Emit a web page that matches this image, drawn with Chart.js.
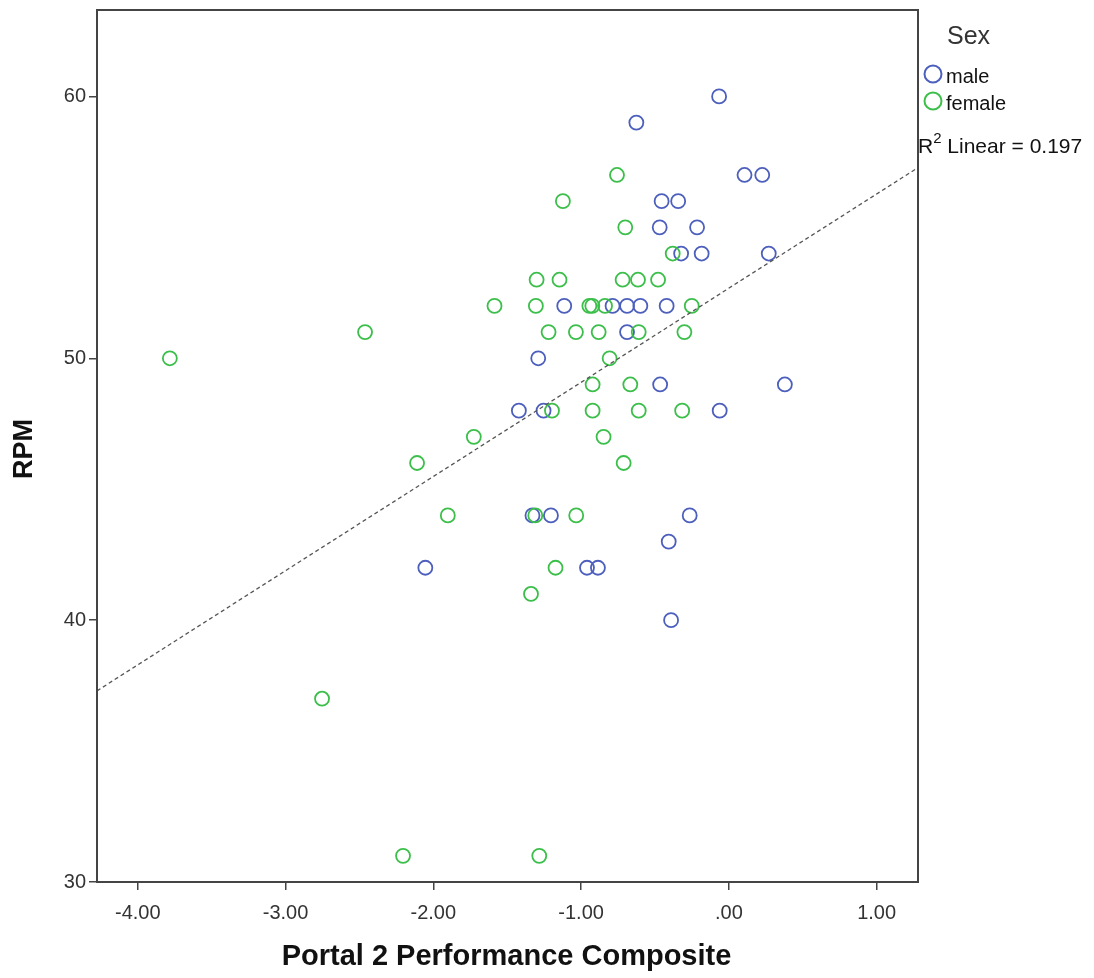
<!DOCTYPE html>
<html>
<head>
<meta charset="utf-8">
<script src="https://cdn.jsdelivr.net/npm/chart.js@4/dist/chart.umd.min.js"></script>
<style>
  html, body { margin: 0; padding: 0; background: #fff; }
  #wrap { width: 1094px; height: 978px; }
</style>
</head>
<body>
<div id="wrap"><canvas id="rpmChart" width="1094" height="978"></canvas></div>
<script>
// -------- Data --------
const maleX = [-0.066, -0.626, 0.106, 0.226, -0.455, -0.343, -0.468, -0.215, -0.323, -0.184, 0.270,
               -1.114, -0.787, -0.689, -0.599, -0.421, -0.689, -1.290, -0.465, 0.379,
               -1.421, -1.254, -0.062, -1.329, -1.204, -0.265, -0.407, -2.054, -0.960, -0.886, -0.391];
const maleY = [60, 59, 57, 57, 56, 56, 55, 55, 54, 54, 54,
               52, 52, 52, 52, 52, 51, 50, 49, 49,
               48, 48, 48, 44, 44, 44, 43, 42, 42, 42, 40];

const femaleX = [-0.757, -1.123, -0.701, -0.380,
                 -1.301, -1.146, -0.719, -0.615, -0.479,
                 -1.586, -1.306, -0.944, -0.924, -0.838, -0.251,
                 -2.462, -1.220, -1.035, -0.881, -0.610, -0.301,
                 -3.783, -0.807, -0.922, -0.667,
                 -1.197, -0.922, -0.610, -0.316,
                 -1.726, -0.848, -2.110, -0.712,
                 -1.902, -1.310, -1.033, -1.173, -1.339, -2.753, -2.205, -1.283];
const femaleY = [57, 56, 55, 54,
                 53, 53, 53, 53, 53,
                 52, 52, 52, 52, 52, 52,
                 51, 51, 51, 51, 51, 51,
                 50, 50, 49, 49,
                 48, 48, 48, 48,
                 47, 47, 46, 46,
                 44, 44, 44, 42, 41, 37, 31, 31];

// fit line ends (where it meets the frame)
const fitX = [-4.276, 1.280];
const fitY = [37.30, 57.28];

const xTickValues = [-4, -3, -2, -1, 0, 1];
const yTickValues = [30, 40, 50, 60];
const sexLabels = ['male', 'female'];
const rSquared = 0.197;

// -------- Styling --------
const MALE_COLOR = '#4d5fbd';
const FEMALE_COLOR = '#3cbf4a';
const AXIS_COLOR = '#444444';
const TEXT_COLOR = '#333333';
const FONT = '"Liberation Sans", Arial, sans-serif';

const toPoints = (xs, ys) => xs.map((x, i) => ({ x: x, y: ys[i] }));

// x labels look like SPSS: ".00", "-1.00"
function fmtX(v) {
    if (v === 0) return '.00';
    return v.toFixed(2);
}

// frame, axis titles and the legend block
const decorPlugin = {
    id: 'decor',
    afterDraw(chart) {
        const { ctx, chartArea: a } = chart;
        ctx.save();
        ctx.strokeStyle = AXIS_COLOR;
        ctx.lineWidth = 2;
        ctx.strokeRect(a.left, a.top, a.right - a.left, a.bottom - a.top);

        ctx.fillStyle = '#111';
        ctx.font = 'bold 29px ' + FONT;
        ctx.textAlign = 'center';
        ctx.textBaseline = 'middle';
        ctx.fillText('Portal 2 Performance Composite', (a.left + a.right) / 2 - 1, 957);
        ctx.save();
        ctx.translate(25, (a.top + a.bottom) / 2 + 3);
        ctx.rotate(-Math.PI / 2);
        ctx.font = 'bold 27px ' + FONT;
        ctx.fillText('RPM', 0, 0);
        ctx.restore();

        // legend
        const lx = a.right + 15;
        ctx.textAlign = 'left';
        ctx.fillStyle = TEXT_COLOR;
        ctx.font = '25px ' + FONT;
        ctx.fillText('Sex', a.right + 29, 37);
        const colors = [MALE_COLOR, FEMALE_COLOR];
        ctx.font = '20px ' + FONT;
        sexLabels.forEach((lab, i) => {
            const cy = 74 + i * 27;
            ctx.beginPath();
            ctx.arc(lx, cy, 8.5, 0, Math.PI * 2);
            ctx.strokeStyle = colors[i];
            ctx.lineWidth = 2;
            ctx.stroke();
            ctx.fillStyle = '#111';
            ctx.fillText(lab, lx + 13, cy + 3);
        });

        // R² Linear = 0.197
        ctx.fillStyle = '#111';
        ctx.font = '21px ' + FONT;
        let tx = a.right;
        ctx.fillText('R', tx, 147);
        tx += ctx.measureText('R').width;
        ctx.font = '15px ' + FONT;
        ctx.fillText('2', tx, 139);
        tx += ctx.measureText('2').width;
        ctx.font = '21px ' + FONT;
        ctx.fillText(' Linear = ' + rSquared.toFixed(3), tx, 147);
        ctx.restore();
    }
};

const ctx = document.getElementById('rpmChart');
new Chart(ctx, {
    type: 'scatter',
    data: {
        datasets: [
            {
                label: 'male',
                data: toPoints(maleX, maleY),
                pointRadius: 7,
                pointHoverRadius: 7,
                pointBorderWidth: 1.8,
                borderColor: MALE_COLOR,
                backgroundColor: 'rgba(0,0,0,0)',
                order: 3
            },
            {
                label: 'female',
                data: toPoints(femaleX, femaleY),
                pointRadius: 7,
                pointHoverRadius: 7,
                pointBorderWidth: 1.8,
                borderColor: FEMALE_COLOR,
                backgroundColor: 'rgba(0,0,0,0)',
                order: 2
            },
            {
                label: 'fit',
                data: toPoints(fitX, fitY),
                showLine: true,
                pointRadius: 0,
                borderColor: '#555555',
                borderWidth: 1.3,
                borderDash: [4, 3],
                order: 1
            }
        ]
    },
    options: {
        responsive: false,
        animation: false,
        layout: { padding: { top: 10, right: 176, left: 0, bottom: 0 } },
        plugins: {
            legend: { display: false },
            tooltip: { enabled: false }
        },
        scales: {
            x: {
                type: 'linear',
                min: fitX[0],
                max: fitX[1],
                afterBuildTicks: scale => { scale.ticks = xTickValues.map(v => ({ value: v })); },
                afterFit: scale => { scale.height = 96; scale.paddingLeft = 0; scale.paddingRight = 0; },
                border: { display: false },
                grid: { drawOnChartArea: false, drawTicks: true, tickLength: 8, color: AXIS_COLOR, lineWidth: 1.5 },
                ticks: {
                    callback: v => fmtX(v),
                    color: TEXT_COLOR,
                    font: { family: FONT, size: 20 },
                    padding: 11,
                    maxRotation: 0
                }
            },
            y: {
                type: 'linear',
                min: 30,
                max: 63.3,
                afterBuildTicks: scale => { scale.ticks = yTickValues.map(v => ({ value: v })); },
                afterFit: scale => { scale.width = 97; scale.paddingTop = 0; scale.paddingBottom = 0; },
                border: { display: false },
                grid: { drawOnChartArea: false, drawTicks: true, tickLength: 8, color: AXIS_COLOR, lineWidth: 1.5 },
                ticks: {
                    color: TEXT_COLOR,
                    font: { family: FONT, size: 20 },
                    padding: 3
                }
            }
        }
    },
    plugins: [decorPlugin]
});
</script>
</body>
</html>
